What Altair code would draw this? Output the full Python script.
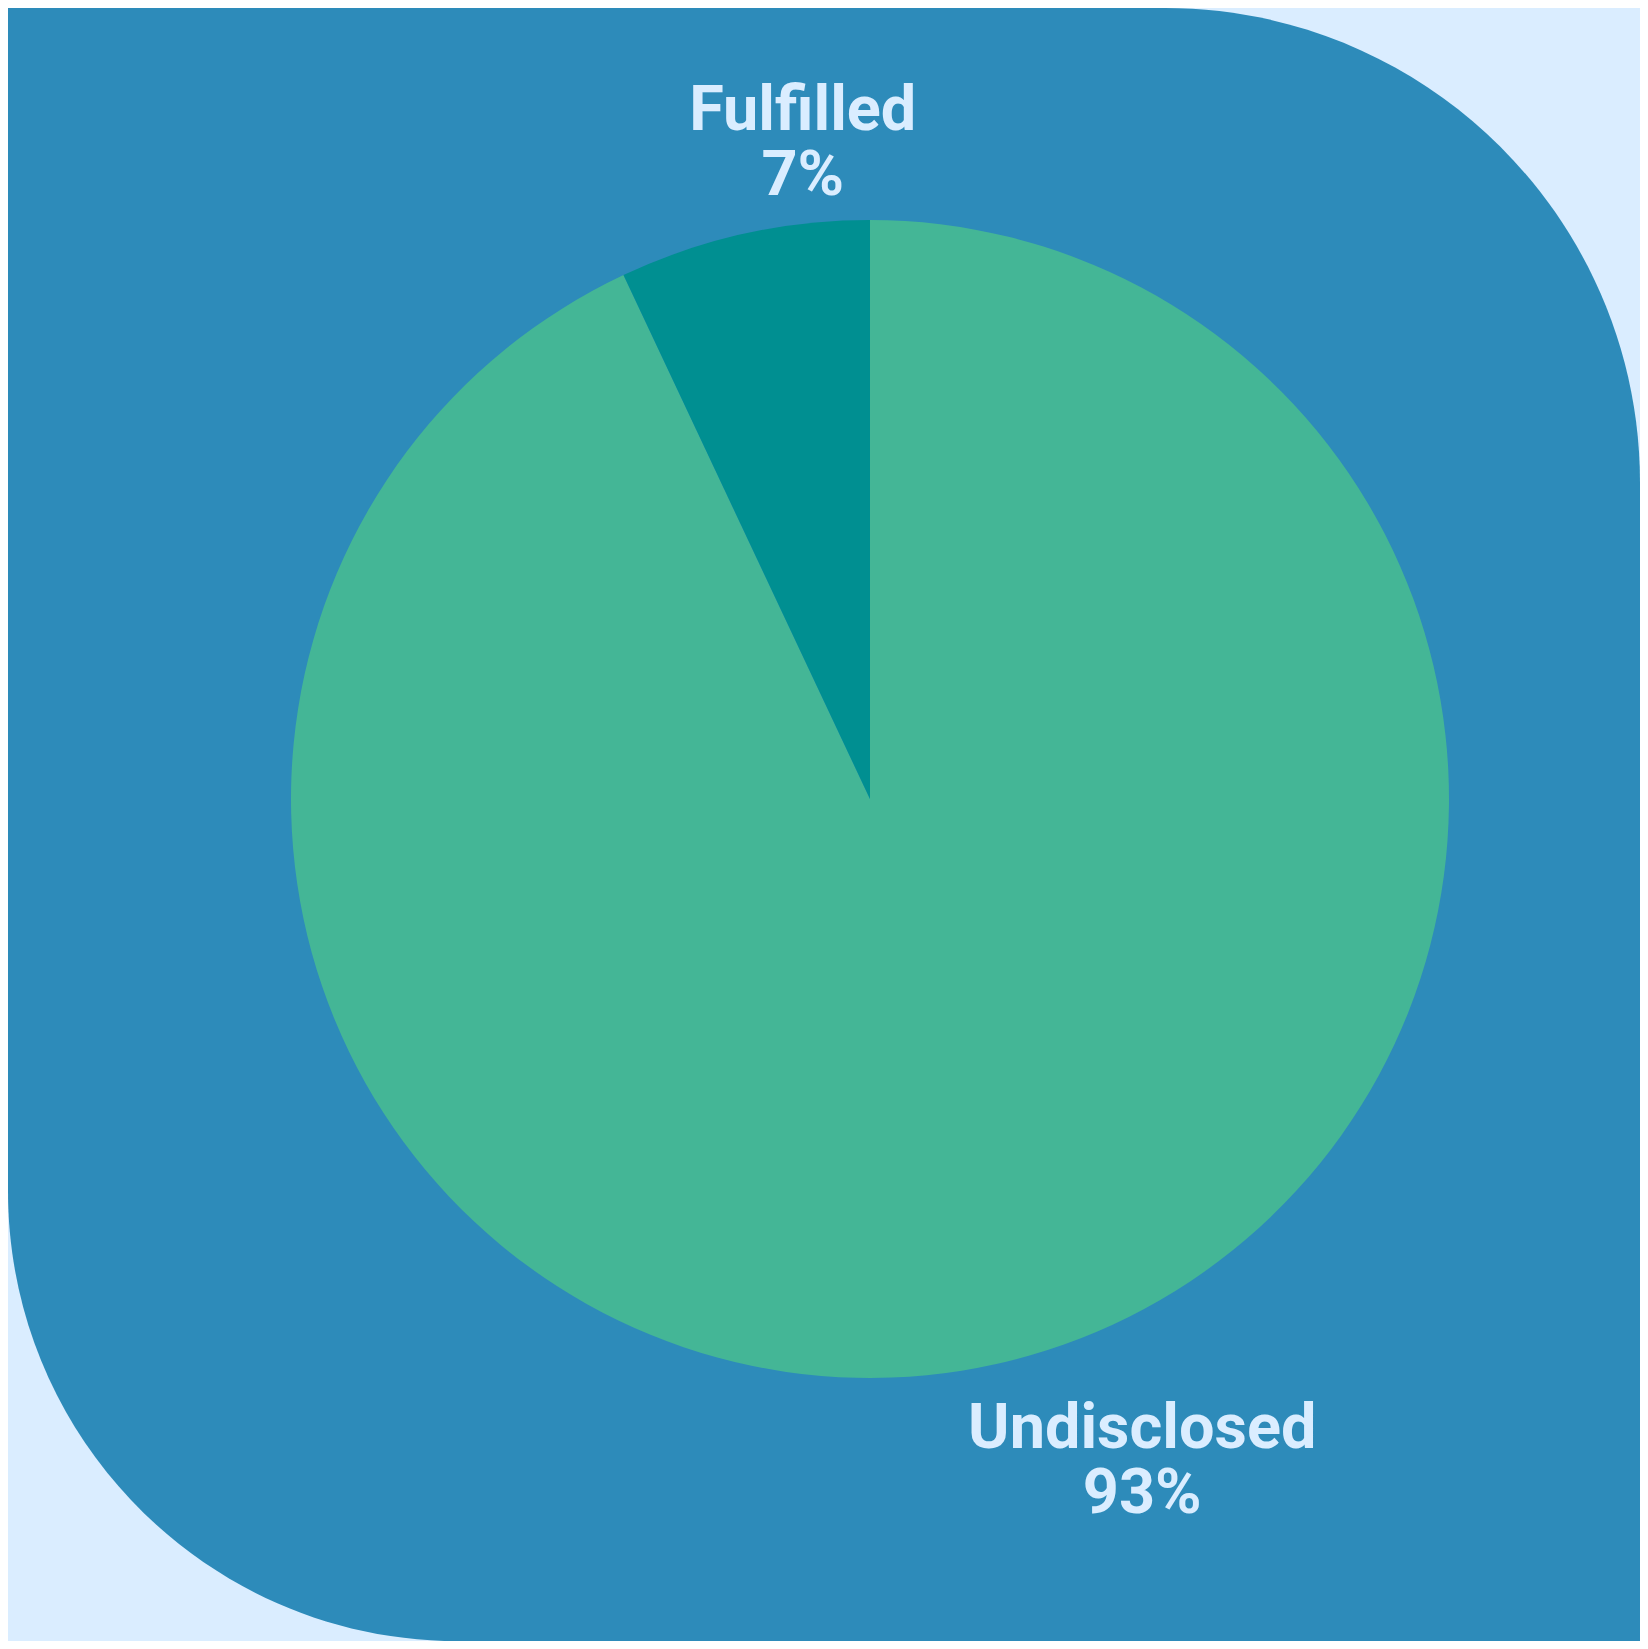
import altair as alt
import pandas as pd

# ---- data ----
categories = ["Undisclosed", "Fulfilled"]
shares = [93, 7]
pct_labels = ["93%", "7%"]
slice_colors = ["#44b696", "#008f91"]
draw_rank = [0, 1]

df = pd.DataFrame({
    "category": categories,
    "share": shares,
    "rank": draw_rank,
    "label": [f"{c}\n{p}" for c, p in zip(categories, pct_labels)],
})

# ---- layout ----
W, H = 1632, 1633
CX, CY = 862, 791
R = 579
LABEL_R = 675
PANEL = "#2d8bba"
PAGE = "#daedff"
TEXT = "#daedff"

panel = alt.Chart(pd.DataFrame({"k": [0]})).mark_rect(
    color=PANEL, cornerRadiusTopRight=475, cornerRadiusBottomLeft=450
).encode(
    x=alt.value(0), x2=alt.value(W), y=alt.value(0), y2=alt.value(H)
)

base = alt.Chart(df).transform_stack(
    stack="share", groupby=[], as_=["start", "end"], sort=[alt.SortField("rank")]
).transform_calculate(mid="(datum.start + datum.end) / 2")

theta_scale = alt.Scale(domain=[0, 100])

arcs = base.mark_arc(outerRadius=R, strokeWidth=0).encode(
    theta=alt.Theta("start:Q", scale=theta_scale),
    theta2="end:Q",
    color=alt.Color("category:N", scale=alt.Scale(domain=categories, range=slice_colors), legend=None),
    x=alt.value(CX),
    y=alt.value(CY),
)

def label_layer(cat, dx, dy):
    return base.transform_filter(alt.datum.category == cat).mark_text(
        radius=LABEL_R, dx=dx, dy=dy, font="Roboto", fontWeight="bold", fontSize=63,
        lineBreak="\n", lineHeight=65, color=TEXT, align="center", baseline="middle",
    ).encode(
        theta=alt.Theta("mid:Q", scale=theta_scale),
        text="label:N",
        x=alt.value(CX),
        y=alt.value(CY),
    )

chart = alt.layer(
    panel, arcs, label_layer("Undisclosed", 125, -29), label_layer("Fulfilled", 80, -29)
).properties(
    width=W, height=H, padding=0, background=PAGE
).configure_view(stroke=None)

chart.save("out.html", embed_options={"renderer": "svg", "actions": False})
